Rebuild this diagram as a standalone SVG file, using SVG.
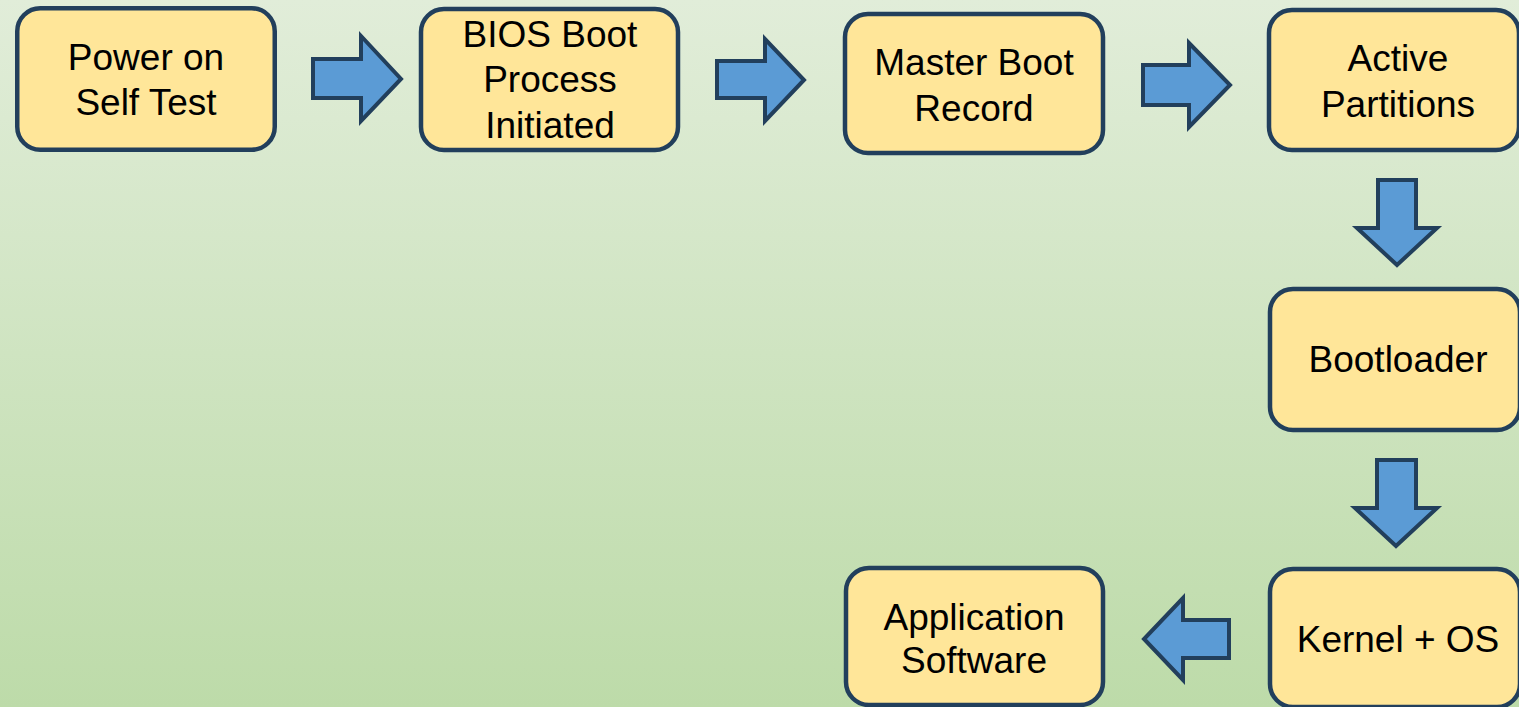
<svg xmlns="http://www.w3.org/2000/svg" width="1519" height="707" viewBox="0 0 1519 707">
  <defs>
    <linearGradient id="bg" x1="0" y1="0" x2="0" y2="1">
      <stop offset="0" stop-color="#e1edd9"/>
      <stop offset="1" stop-color="#bddba9"/>
    </linearGradient>
    <style>
      .box { fill: #ffe699; stroke: #223f5c; stroke-width: 4.5; }
      .arrow { fill: #5b9bd5; stroke: #223f5c; stroke-width: 4; stroke-linejoin: miter; }
      .label { font-family: "Liberation Sans", Arial, sans-serif; font-size: 37px; fill: #000; text-anchor: middle; }
    </style>
  </defs>

  <rect x="0" y="0" width="1519" height="707" fill="url(#bg)"/>

  <!-- flow arrows -->
  <g id="connectors">
    <polygon class="arrow" points="313,59 361,59 361,36 401,79 361,121 361,98 313,98"/>
    <polygon class="arrow" points="717,61 765,61 765,39 804,80 765,121 765,98 717,98"/>
    <polygon class="arrow" points="1143,65 1189,65 1189,43 1230,85 1189,127 1189,105 1143,105"/>
    <polygon class="arrow" points="1378,180 1416,180 1416,228 1437,228 1397,265 1357,228 1378,228"/>
    <polygon class="arrow" points="1377,460 1416,460 1416,508 1437,508 1396,546 1355,508 1377,508"/>
    <polygon class="arrow" points="1229,620 1183,620 1183,598 1144,639 1183,680 1183,658 1229,658"/>
  </g>

  <g id="node-post">
    <rect class="box" x="17.25" y="8.25" width="257.5" height="141.5" rx="23"/>
    <text class="label" x="146" y="70">Power on</text>
    <text class="label" x="146" y="115">Self Test</text>
  </g>

  <g id="node-bios">
    <rect class="box" x="421" y="9" width="257" height="141" rx="23"/>
    <text class="label" x="550" y="47">BIOS Boot</text>
    <text class="label" x="550" y="92">Process</text>
    <text class="label" x="550" y="138">Initiated</text>
  </g>

  <g id="node-mbr">
    <rect class="box" x="845" y="14" width="258" height="139" rx="23"/>
    <text class="label" x="974" y="75">Master Boot</text>
    <text class="label" x="974" y="121">Record</text>
  </g>

  <g id="node-partitions">
    <rect class="box" x="1269" y="10" width="250" height="140" rx="23"/>
    <text class="label" x="1398" y="71">Active</text>
    <text class="label" x="1398" y="117">Partitions</text>
  </g>

  <g id="node-bootloader">
    <rect class="box" x="1270" y="289" width="250" height="141" rx="23"/>
    <text class="label" x="1398" y="372">Bootloader</text>
  </g>

  <g id="node-kernel">
    <rect class="box" x="1270" y="569" width="250" height="138" rx="23"/>
    <text class="label" x="1398" y="652">Kernel + OS</text>
  </g>

  <g id="node-apps">
    <rect class="box" x="846" y="568" width="257" height="137" rx="23"/>
    <text class="label" x="974" y="630">Application</text>
    <text class="label" x="974" y="673">Software</text>
  </g>
</svg>
